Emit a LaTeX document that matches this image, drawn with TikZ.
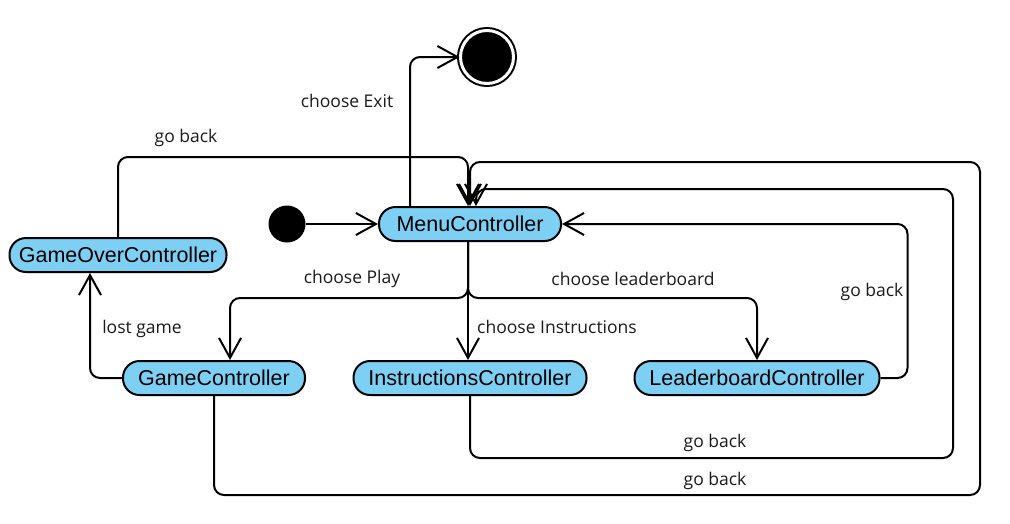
\documentclass[tikz,border=0pt]{standalone}
\usepackage{fontspec}
\setmainfont{Open Sans}
\newfontfamily\statefont{Liberation Sans}
\usetikzlibrary{arrows.meta, positioning, calc}

\begin{document}
\begin{tikzpicture}[
    % pixel coordinates of the reference: x to the right, y downwards
    x=1pt, y=-1pt,
]

% ---------------------------------------------------------------- colours
\definecolor{statefill}{HTML}{7ECFF4}
\definecolor{linecolor}{HTML}{000000}
\definecolor{labelcolor}{HTML}{1A1A1A}

\tikzset{
    state/.style={draw=linecolor, fill=statefill, line width=2pt,
                  rounded corners=16.5pt, minimum height=34pt, inner sep=0pt,
                  font=\statefont\fontsize{21.5}{26}\selectfont},
    startdot/.style={circle, fill=linecolor, minimum size=37pt, inner sep=0pt},
    stopdot/.style={circle, fill=linecolor, draw=linecolor, line width=2pt,
                    double=white, double distance=3pt,
                    minimum size=53pt, inner sep=0pt},
    flow/.style={draw=linecolor, line width=2pt, rounded corners=10pt,
                 -{Straight Barb[length=20pt, width=22pt]}},
    lbl/.style={text=labelcolor, font=\fontsize{17.5}{21}\selectfont,
                inner sep=0pt},
}

\useasboundingbox (0,0) rectangle (1010,523);

% ---------------------------------------------------------------- states
\node[startdot] (start) at (287,224) {};
\node[stopdot] (stop) at (487,57) {};
\node[state, minimum width=182pt] (menu) at (470,224) {MenuController};
\node[state, minimum width=217pt] (gameover) at (118,255) {GameOverController};
\node[state, minimum width=182pt] (game) at (214,378) {GameController};
\node[state, minimum width=233pt] (instr) at (470,378) {InstructionsController};
\node[state, minimum width=245pt] (leader) at (757,378) {LeaderboardController};

% ---------------------------------------------------------------- transitions
\draw[flow] (start) -- (menu);
\draw[flow] ([xshift=-60pt]menu.north) |- (stop);
\draw[flow] (gameover.north) -- ++(0,-80) -| ([xshift=-2pt]menu.north);
\draw[flow] (game.south) -- ++(0,99) -| (980,162) -| (menu.north);
\draw[flow] (instr.south) -- ++(0,62) -| (953,189) -| ([xshift=6pt]menu.north);
\draw[flow] (leader.east) -- ++(27,0) |- (menu.east);
\draw[flow] ([xshift=-2pt]menu.south) -- ++(0,56) -| ([xshift=16pt]game.north);
\draw[flow] ([xshift=-2pt]menu.south) -- ([xshift=-2pt]instr.north);
\draw[flow] ([xshift=-2pt]menu.south) -- ++(0,56) -| (leader.north);
\draw[flow] (game.west) -| ([xshift=-28pt]gameover.south);

% ---------------------------------------------------------------- labels
\node[lbl] (exitlbl) at (347,101) {choose Exit};
\node[lbl] (backover) at (186,138) {go back};
\node[lbl] (playlbl) at (352,279) {choose Play};
\node[lbl] (boardlbl) at (633,279) {choose leaderboard};
\node[lbl] (instrlbl) at (557,327) {choose Instructions};
\node[lbl] (backboard) at (872,292) {go back};
\node[lbl] (lostlbl) at (142,329) {lost game};
\node[lbl] (backinstr) at (715,443) {go back};
\node[lbl] (backgame) at (715,481) {go back};

\end{tikzpicture}
\end{document}
